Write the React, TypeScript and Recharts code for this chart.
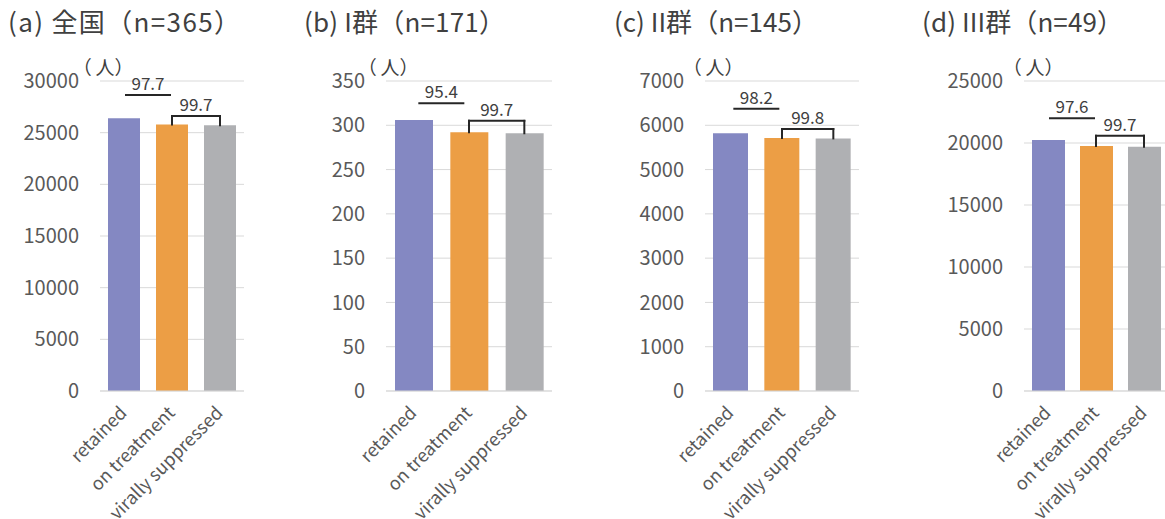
import React from 'react';
import { BarChart, Bar, XAxis, YAxis, CartesianGrid, ReferenceLine, Cell } from 'recharts';

const FONT = '"Noto Sans CJK JP", "Noto Sans", sans-serif';

const categories = ['retained', 'on treatment', 'virally suppressed'];
const seriesColors = ['#8488C2', '#EC9E45', '#AFB0B3'];

const titles = ['(a) 全国（n=365）', '(b) I群（n=171）', '(c) II群（n=145）', '(d) III群（n=49）'];
const unitOpen = '（';
const unitRest = '人）';

const valuesA = [26400, 25800, 25720];
const valuesB = [306, 292, 291];
const valuesC = [5820, 5715, 5704];
const valuesD = [20240, 19755, 19695];

const retentionPct = ['97.7', '95.4', '98.2', '97.6'];
const suppressionPct = ['99.7', '99.7', '99.8', '99.7'];

const ticksA = [0, 5000, 10000, 15000, 20000, 25000, 30000];
const ticksB = [0, 50, 100, 150, 200, 250, 300, 350];
const ticksC = [0, 1000, 2000, 3000, 4000, 5000, 6000, 7000];
const ticksD = [0, 5000, 10000, 15000, 20000, 25000];

// annotation heights (data units of each panel's axis)
const retentionLineY = [28650, 325, 6375, 22000];
const suppressionBracketY = [26610, 305, 5915, 20590];

const valueSets = [valuesA, valuesB, valuesC, valuesD];
const tickSets = [ticksA, ticksB, ticksC, ticksD];

const layouts = [
  { left: 0, width: 250, right: 6, yAxisWidth: 100, barSize: 32, titleX: 8, titleLen: 232, unitX: 81.5 },
  { left: 290, width: 270, right: 8, yAxisWidth: 96, barSize: 38, titleX: 304, titleLen: 201, unitX: 366.5 },
  { left: 600, width: 265, right: 6, yAxisWidth: 105, barSize: 35, titleX: 614, titleLen: 204, unitX: 691.5 },
  { left: 910, width: 258, right: 0, yAxisWidth: 114, barSize: 33, titleX: 922, titleLen: 201, unitX: 1011.5 },
];

const XTick = (props: any) => {
  const { x, y, payload } = props;
  return (
    <text
      transform={`translate(${x + 4},${y + 23}) rotate(-45)`}
      textAnchor="end"
      fontSize={18}
      fill="#595959"
      fontFamily={FONT}
    >
      {payload.value}
    </text>
  );
};

const CenteredLine = (props: any) => {
  const { x1, y1, x2, y2 } = props;
  const mid = (x1 + x2) / 2;
  return <line x1={mid - 23} y1={y1} x2={mid + 23} y2={y2} stroke="#262626" strokeWidth={2} />;
};

const labelStyle = (value: string) => ({
  value,
  position: 'top' as const,
  offset: 5,
  fill: '#404040',
  fontSize: 17,
  fontFamily: FONT,
});

function Panel({ idx }: { idx: number }) {
  const vals = valueSets[idx];
  const data = categories.map((c, i) => ({ category: c, value: vals[i] }));
  const L = layouts[idx];
  const ticks = tickSets[idx];
  const max = ticks[ticks.length - 1];
  const by = suppressionBracketY[idx];
  const ry = retentionLineY[idx];
  return (
    <div style={{ position: 'absolute', left: L.left, top: 0 }}>
      <BarChart
        width={L.width}
        height={519}
        data={data}
        margin={{ top: 81, right: L.right, bottom: 98, left: 0 }}
      >
        <CartesianGrid vertical={false} stroke="#d9d9d9" strokeWidth={1} />
        <XAxis
          dataKey="category"
          height={30}
          tick={<XTick />}
          tickLine={false}
          tickSize={0}
          tickMargin={0}
          axisLine={{ stroke: '#d9d9d9' }}
          interval={0}
        />
        <YAxis
          width={L.yAxisWidth}
          domain={[0, max]}
          ticks={ticks}
          interval={0}
          tickLine={false}
          axisLine={false}
          tickSize={0}
          tickMargin={21}
          tick={{ fill: '#595959', fontSize: 20, fontFamily: FONT }}
        />
        <Bar dataKey="value" barSize={L.barSize} isAnimationActive={false}>
          {data.map((d, i) => (
            <Cell key={d.category} fill={seriesColors[i]} />
          ))}
        </Bar>
        <ReferenceLine
          segment={[
            { x: categories[0], y: ry },
            { x: categories[1], y: ry },
          ]}
          shape={CenteredLine}
          label={labelStyle(retentionPct[idx])}
          ifOverflow="visible"
        />
        <ReferenceLine
          segment={[
            { x: categories[1], y: by },
            { x: categories[2], y: by },
          ]}
          stroke="#262626"
          strokeWidth={2}
          strokeLinecap="square"
          label={labelStyle(suppressionPct[idx])}
          ifOverflow="visible"
        />
        <ReferenceLine
          segment={[
            { x: categories[1], y: by },
            { x: categories[1], y: vals[1] },
          ]}
          stroke="#262626"
          strokeWidth={2}
          strokeLinecap="square"
          ifOverflow="visible"
        />
        <ReferenceLine
          segment={[
            { x: categories[2], y: by },
            { x: categories[2], y: vals[2] },
          ]}
          stroke="#262626"
          strokeWidth={2}
          strokeLinecap="square"
          ifOverflow="visible"
        />
      </BarChart>
    </div>
  );
}

export default function App() {
  return (
    <div
      style={{
        position: 'absolute',
        left: 0,
        top: 0,
        width: 1165,
        height: 519,
        overflow: 'hidden',
        background: '#ffffff',
      }}
    >
      {layouts.map((_, i) => (
        <Panel key={i} idx={i} />
      ))}
      <svg
        width={1165}
        height={519}
        style={{ position: 'absolute', left: 0, top: 0, pointerEvents: 'none' }}
      >
        {titles.map((t, i) => (
          <text
            key={t}
            x={layouts[i].titleX}
            y={32}
            fontSize={26}
            fill="#404040"
            fontFamily={FONT}
            textLength={layouts[i].titleLen}
            lengthAdjust="spacing"
          >
            {t}
          </text>
        ))}
        {layouts.map((L, i) => (
          <text key={i} x={L.unitX} y={75} fontSize={19} fill="#404040" fontFamily={FONT}>
            <tspan style={{ fontFeatureSettings: '"palt"' }}>{unitOpen}</tspan>
            <tspan dx={4.5}>{unitRest}</tspan>
          </text>
        ))}
      </svg>
    </div>
  );
}
